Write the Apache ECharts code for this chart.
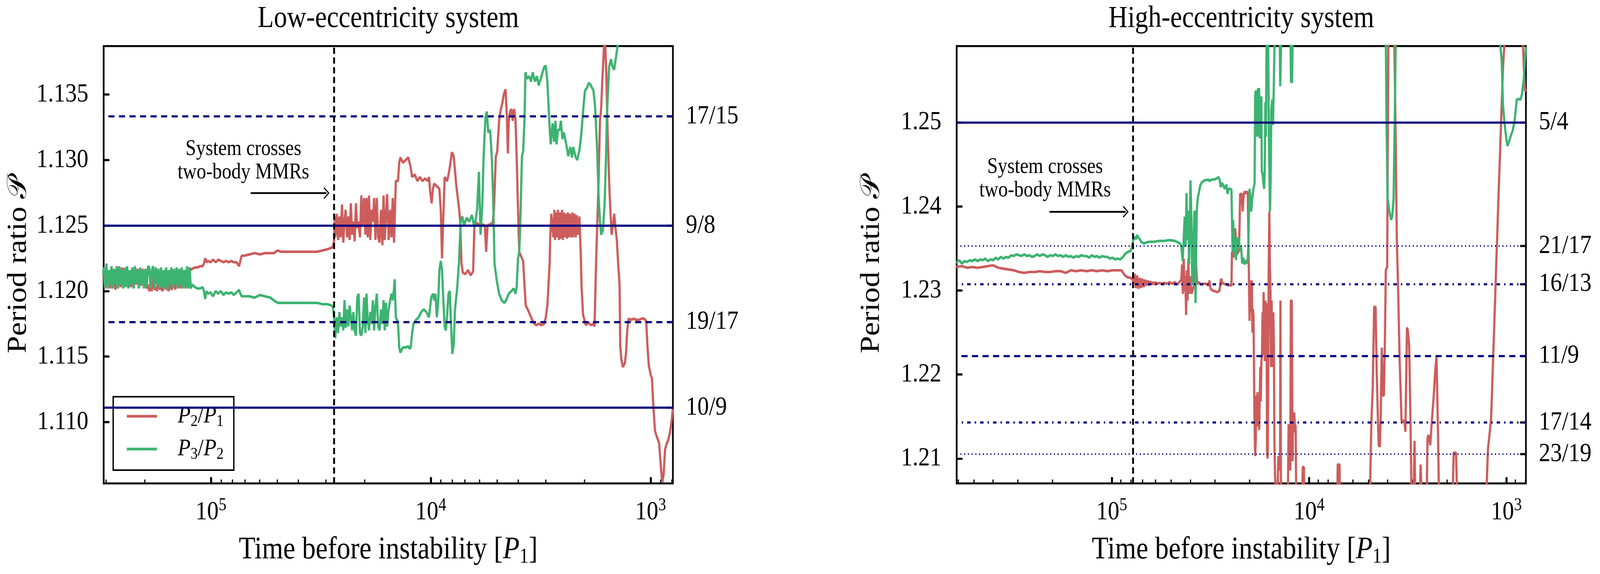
<!DOCTYPE html>
<html>
<head>
<meta charset="utf-8">
<title>Period ratio before instability</title>
<script src="https://cdn.jsdelivr.net/npm/echarts@6/dist/echarts.min.js"></script>
<style>
  html, body { margin: 0; padding: 0; background: #fff; overflow: hidden; }
  #chart { width: 4708px; height: 1470px; transform-origin: 0 0; }
</style>
</head>
<body>
<div id="chart"></div>
<script>
// values: [time before instability in P1, period ratio]
const lowP21 = [
  [310000,1.1210],[307400,1.1216],[303200,1.1202],[299100,1.1218],[295100,1.1205],[291100,1.1215],[287100,1.1202],[283300,1.1218],[279500,1.1205],[275600,1.1216],[271900,1.1201],[268200,1.1219],[264600,1.1205],[261000,1.1216],[257500,1.1203],[254000,1.1218],[250600,1.1202],[247200,1.1216],[243900,1.1205],[240600,1.1218],[237300,1.1202],[234100,1.1215],[230900,1.1203],[227800,1.1218],[224700,1.1202],[221700,1.1216],[218700,1.1205],[215700,1.1217],[212800,1.1202],[209900,1.1216],[207100,1.1204],[204300,1.1217],[201500,1.1202],[198800,1.1215],[196100,1.1202],[193400,1.1205],[190800,1.1200],[188200,1.1203],[185700,1.1200],[183200,1.1216],[180700,1.1201],[178200,1.1203],[175800,1.1200],[173500,1.1216],[171100,1.1201],[168800,1.1205],[166500,1.1200],[164200,1.1202],[162000,1.1216],[159800,1.1201],[157700,1.1203],[155500,1.1200],[153400,1.1216],[151400,1.1201],[149300,1.1203],[147300,1.1216],[145300,1.1201],[143300,1.1216],[141400,1.1202],[139500,1.1215],[137600,1.1202],[135700,1.1216],[133900,1.1203],[132100,1.1216],[130300,1.1202],[128500,1.1217],[126800,1.1203],[125100,1.1218],[123400,1.1216],[121700,1.1217],
  [118400,1.1218],[115200,1.1218],[112100,1.1219],[109100,1.1219],[107600,1.1221],[106200,1.1225],[104700,1.1222],[103300,1.1223],[100500,1.1222],[97800,1.1224],[95200,1.1222],[92600,1.1224],[90100,1.1223],[87700,1.1222],[85400,1.1223],[83100,1.1222],[80800,1.1223],[78700,1.1222],[76500,1.1222],[74500,1.1219],[73500,1.1223],[72500,1.1227],[70500,1.1227],[66800,1.1228],[63300,1.1229],[59900,1.1228],[56700,1.1229],[53700,1.1229],[51600,1.1229],[50900,1.1230],[49500,1.1231],[48200,1.1230],[45600,1.1230],[43200,1.1230],[40900,1.1230],[38700,1.1230],[36700,1.1230],[34700,1.1230],[32900,1.1230],[31100,1.1231],[29500,1.1232],[28300,1.1233],[27900,1.1234],[27550,1.1238],[27300,1.1257],
  [27200,1.1241],[26800,1.1259],[26400,1.1239],[26050,1.1257],[25700,1.1241],[25350,1.1266],[25000,1.1237],[24700,1.1253],[24400,1.1262],[24050,1.1241],[23700,1.1257],[23400,1.1239],[23100,1.1267],[22800,1.1243],[22500,1.1253],[22200,1.1238],[21900,1.1267],[21600,1.1248],[21300,1.1253],[21000,1.1241],[20700,1.1273],[20400,1.1250],[20100,1.1271],[19850,1.1243],[19600,1.1271],[19350,1.1241],[19100,1.1273],[18850,1.1239],[18600,1.1262],[18350,1.1253],[18100,1.1271],[17850,1.1239],[17600,1.1271],[17350,1.1241],[17100,1.1237],[16850,1.1262],[16600,1.1235],[16400,1.1273],[16200,1.1239],[16000,1.1257],[15800,1.1274],[15550,1.1239],[15300,1.1262],[15100,1.1241],[14900,1.1271],[14700,1.1237],[14500,1.1271],
  [14420,1.1284],[14100,1.1284],[13920,1.1298],[13750,1.1302],[13400,1.1298],[13000,1.1300],[12660,1.1302],[12330,1.1294],[12160,1.1287],[11830,1.1289],[11510,1.1284],[11210,1.1287],[10910,1.1284],[10610,1.1286],[10330,1.1284],[10190,1.1287],[10050,1.1275],[9910,1.1267],[9780,1.1278],[9650,1.1282],[9390,1.1280],[9140,1.1278],[9010,1.1262],[8890,1.1225],[8770,1.1257],[8650,1.1287],[8420,1.1284],[8200,1.1294],[8020,1.1306],[7870,1.1303],[7650,1.1280],[7450,1.1264],[7350,1.1253],[7250,1.1221],[7150,1.1214],[6960,1.1213],[6780,1.1216],[6590,1.1212],[6420,1.1215],[6330,1.1250],[6160,1.1252],[5990,1.1250],[5830,1.1251],[5680,1.1250],[5600,1.1230],[5520,1.1250],[5370,1.1251],[5230,1.1252],[5160,1.1262],
  [5060,1.1303],[4990,1.1306],[4890,1.1330],[4810,1.1338],[4720,1.1344],[4660,1.1350],[4570,1.1354],[4500,1.1330],[4460,1.1305],[4420,1.1330],[4360,1.1337],[4300,1.1339],[4240,1.1330],[4180,1.1339],[4120,1.1332],[4070,1.1303],[4010,1.1262],[3960,1.1230],[3850,1.1225],[3800,1.1223],[3750,1.1205],[3700,1.1189],[3600,1.1185],[3500,1.1180],[3410,1.1176],[3320,1.1174],[3230,1.1175],[3140,1.1174],[3050,1.1175],[3000,1.1180],[2950,1.1189],[2880,1.1221],[2860,1.1243],[2830,1.1259],
  [2770,1.1241],[2740,1.1262],[2720,1.1239],[2700,1.1260],[2670,1.1241],[2640,1.1262],[2610,1.1239],[2590,1.1260],[2560,1.1240],[2530,1.1262],[2510,1.1239],[2480,1.1260],[2460,1.1241],[2420,1.1259],[2400,1.1240],[2380,1.1260],[2350,1.1241],[2330,1.1259],[2290,1.1241],[2270,1.1260],[2250,1.1241],[2220,1.1259],[2190,1.1241],[2170,1.1258],[2140,1.1243],[2110,1.1257],
  [2080,1.1230],[2060,1.1202],[2030,1.1182],[1970,1.1174],[1920,1.1176],[1870,1.1174],[1820,1.1175],[1800,1.1173],[1775,1.1216],[1750,1.1250],[1725,1.1284],[1700,1.1330],[1680,1.1339],[1655,1.1364],[1630,1.1387],[1610,1.1389],[1590,1.1364],[1570,1.1323],[1545,1.1284],[1525,1.1262],[1505,1.1243],[1485,1.1250],[1465,1.1259],[1445,1.1248],[1425,1.1239],[1405,1.1221],[1385,1.1205],[1375,1.1159],[1360,1.1148],[1338,1.1142],[1310,1.1145],[1295,1.1152],[1278,1.1170],[1260,1.1179],[1227,1.1178],[1194,1.1179],[1162,1.1178],[1131,1.1178],[1099,1.1179],[1070,1.1179],[1047,1.1177],[1035,1.1159],[1019,1.1143],[999,1.1136],[986,1.1133],[973,1.1113],[955,1.1093],[934,1.1088],[915,1.1084],[896,1.1063],[884,1.1054],[872,1.1061],[860,1.1079],[848,1.1083],[833,1.1086],[819,1.1091],[804,1.1100],[793,1.1110]
];

const lowP32 = [
  [310000,1.1212],[307400,1.1218],[303200,1.1203],[299100,1.1221],[295100,1.1202],[291100,1.1216],[287100,1.1205],[283300,1.1219],[279500,1.1202],[275600,1.1217],[271900,1.1205],[268200,1.1218],[264600,1.1202],[261000,1.1219],[257500,1.1205],[254000,1.1216],[250600,1.1202],[247200,1.1218],[243900,1.1203],[240600,1.1219],[237300,1.1202],[234100,1.1216],[230900,1.1205],[227800,1.1218],[224700,1.1202],[221700,1.1219],[218700,1.1206],[215700,1.1216],[212800,1.1202],[209900,1.1218],[207100,1.1205],[204300,1.1216],[201500,1.1202],[198800,1.1217],[196100,1.1203],[193400,1.1219],[190800,1.1218],[188200,1.1202],[185700,1.1216],[183200,1.1219],[180700,1.1202],[178200,1.1218],[175800,1.1205],[173500,1.1217],[171100,1.1202],[168800,1.1218],[166500,1.1203],[164200,1.1216],[162000,1.1202],[159800,1.1218],[157700,1.1201],[155500,1.1216],[153400,1.1205],[151400,1.1218],[149300,1.1202],[147300,1.1217],[145300,1.1205],[143300,1.1218],[141400,1.1202],[139500,1.1217],[137600,1.1205],[135700,1.1218],[133900,1.1202],[132100,1.1216],[130300,1.1203],[128500,1.1219],[126800,1.1202],[125100,1.1218],[123400,1.1202],[121700,1.1205],
  [118400,1.1203],[115200,1.1202],[112100,1.1202],[109100,1.1203],[107600,1.1200],[106200,1.1194],[104700,1.1200],[103300,1.1198],[100500,1.1199],[97800,1.1196],[95200,1.1200],[92600,1.1198],[90100,1.1200],[87700,1.1197],[85400,1.1199],[83100,1.1198],[80800,1.1199],[78700,1.1197],[76500,1.1199],[74500,1.1201],[73500,1.1198],[72500,1.1196],[70500,1.1196],[66800,1.1196],[63300,1.1195],[59900,1.1197],[56700,1.1196],[53700,1.1195],[50900,1.1192],[49500,1.1191],[48200,1.1191],[45600,1.1191],[43200,1.1191],[40900,1.1191],[38700,1.1191],[36700,1.1191],[34700,1.1191],[32900,1.1191],[31100,1.1190],[29500,1.1190],[28300,1.1189],[27900,1.1188],[27550,1.1180],[27300,1.1170],
  [27200,1.1164],[26800,1.1180],[26400,1.1168],[26050,1.1184],[25700,1.1173],[25350,1.1180],[25000,1.1170],[24700,1.1193],[24400,1.1172],[24050,1.1186],[23700,1.1173],[23400,1.1189],[23100,1.1180],[22800,1.1170],[22500,1.1184],[22200,1.1170],[21900,1.1166],[21600,1.1195],[21300,1.1198],[21000,1.1168],[20700,1.1166],[20400,1.1173],[20100,1.1195],[19850,1.1168],[19600,1.1198],[19350,1.1177],[19100,1.1170],[18850,1.1184],[18600,1.1175],[18350,1.1193],[18100,1.1170],[17850,1.1189],[17600,1.1198],[17350,1.1173],[17100,1.1170],[16850,1.1186],[16600,1.1175],[16400,1.1193],[16200,1.1170],[16000,1.1191],[15800,1.1173],[15550,1.1186],[15300,1.1193],[15100,1.1198],[14900,1.1193],[14700,1.1202],[14600,1.1209],
  [14420,1.1180],[14100,1.1176],[13920,1.1157],[13750,1.1153],[13400,1.1157],[13000,1.1157],[12660,1.1158],[12490,1.1156],[12330,1.1157],[12160,1.1168],[12000,1.1175],[11670,1.1178],[11360,1.1180],[11060,1.1184],[10760,1.1186],[10470,1.1184],[10190,1.1180],[9960,1.1195],[9780,1.1198],[9650,1.1193],[9520,1.1198],[9390,1.1180],[9260,1.1191],[9140,1.1216],[9010,1.1223],[8890,1.1216],[8770,1.1193],[8650,1.1173],[8540,1.1170],[8420,1.1182],[8310,1.1198],[8200,1.1200],[8090,1.1175],[7980,1.1152],[7870,1.1159],[7760,1.1186],[7590,1.1202],[7450,1.1221],[7310,1.1253],[7190,1.1257],[7060,1.1250],[6870,1.1256],[6690,1.1253],[6500,1.1258],[6330,1.1248],[6160,1.1262],[6040,1.1291],[5940,1.1243],[5830,1.1266],[5750,1.1303],[5640,1.1333],[5560,1.1337],[5480,1.1321],[5370,1.1323],[5270,1.1300],[5190,1.1262],[5130,1.1221],[5020,1.1209],[4890,1.1198],[4760,1.1193],[4630,1.1191],
  [4540,1.1193],[4420,1.1198],[4300,1.1200],[4200,1.1202],[4120,1.1198],[4070,1.1203],[4010,1.1225],[3960,1.1230],[3900,1.1262],[3850,1.1303],[3800,1.1307],[3750,1.1330],[3710,1.1367],[3650,1.1362],[3570,1.1364],[3500,1.1360],[3440,1.1367],[3360,1.1360],[3290,1.1364],[3230,1.1357],[3160,1.1362],[3100,1.1367],[3050,1.1371],[3000,1.1372],[2950,1.1360],[2890,1.1330],[2850,1.1312],[2790,1.1328],[2750,1.1314],[2710,1.1330],[2680,1.1312],[2640,1.1323],[2590,1.1323],[2560,1.1330],[2520,1.1316],[2480,1.1321],[2420,1.1312],[2370,1.1303],[2320,1.1310],[2280,1.1302],[2250,1.1310],[2200,1.1303],[2160,1.1300],[2110,1.1307],[2070,1.1319],[2030,1.1337],[1990,1.1353],[1950,1.1355],[1910,1.1359],[1870,1.1357],[1820,1.1353],[1790,1.1341],[1750,1.1307],[1725,1.1273],[1700,1.1253],[1680,1.1243],[1650,1.1246],[1620,1.1266],[1600,1.1296],[1580,1.1335],[1545,1.1371],[1515,1.1377],[1490,1.1371],[1465,1.1369],[1445,1.1376],[1420,1.1385],[1405,1.1389],[1300,1.1420]
];

const highP21 = [
  [615000,1.2328],[610500,1.2328],[574600,1.2329],[540800,1.2327],[509000,1.2328],[479100,1.2327],[450900,1.2328],[424400,1.2329],[399500,1.2330],[376000,1.2327],[353900,1.2326],[333100,1.2325],[313500,1.2324],[295100,1.2322],[277700,1.2321],[261400,1.2322],[246000,1.2322],[231600,1.2323],[218000,1.2322],[205100,1.2322],[193100,1.2323],[181700,1.2323],[171000,1.2321],[161000,1.2324],[151500,1.2323],[142600,1.2324],[134200,1.2323],[126300,1.2324],[118900,1.2323],[111900,1.2324],[105300,1.2323],[99100,1.2324],[93300,1.2324],[89200,1.2324],[86500,1.2319],[83900,1.2316],[80200,1.2315],[78200,1.2313],
  [77800,1.2308],[76700,1.2320],[75500,1.2303],[74400,1.2318],[73200,1.2302],[72100,1.2315],[71000,1.2303],[70000,1.2314],[68900,1.2304],[67900,1.2313],[66800,1.2306],[65800,1.2312],[64800,1.2306],[63900,1.2311],[62900,1.2307],[62000,1.2310],[61000,1.2307],[60100,1.2310],[59200,1.2308],[57400,1.2309],[55700,1.2308],[54100,1.2309],[52500,1.2308],[50900,1.2310],[49400,1.2308],[47900,1.2310],[46500,1.2307],[45100,1.2311],
  [44400,1.2313],[44000,1.2331],[43600,1.2296],[43200,1.2338],[42800,1.2299],[42400,1.2317],[42000,1.2271],[41700,1.2324],[41300,1.2288],[40900,1.2338],[40600,1.2296],[40200,1.2317],[39900,1.2310],[39400,1.2296],[38700,1.2303],[38200,1.2306],[37800,1.2395],[37400,1.2331],[36900,1.2308],[36200,1.2310],[35400,1.2307],[34300,1.2308],[33300,1.2308],[32300,1.2306],
  [32000,1.2312],[31580,1.2302],[30760,1.2300],[29960,1.2299],[29180,1.2298],[28420,1.2300],[28050,1.2312],[27860,1.2314],[27500,1.2309],[26960,1.2308],[26250,1.2307],[25560,1.2306],[24900,1.2307],[24740,1.2305],[24580,1.2346],[24420,1.2339],[24260,1.2350],[23940,1.2353],[23690,1.2374],[23470,1.2360],[23320,1.2343],[23070,1.2344],[22860,1.2346],[22650,1.2353],[22480,1.2380],[22350,1.2415],[21970,1.2415],[21680,1.2394],[21540,1.2408],[21400,1.2415],[21260,1.2418],[21030,1.2415],[20700,1.2418],[20430,1.2415],[20300,1.2360],[20160,1.2309],[20030,1.2264],[19900,1.2312],[19640,1.2274],[19510,1.2312],[19380,1.2250],[19250,1.2278],[19130,1.2271],[18930,1.2155],[18760,1.2103],[18630,1.2121],[18510,1.2175],[18390,1.2162],[18270,1.2179],[18150,1.2138],[18030,1.2172],[17910,1.2134],[17790,1.2172],[17670,1.2209],[17560,1.2168],[17440,1.2216],[17330,1.2223],[17210,1.2274],[17100,1.2223],[16990,1.2298],[16880,1.2257],[16770,1.2216],[16650,1.2288],[16540,1.2240],[16430,1.2285],[16330,1.2107],[16220,1.2100],[16110,1.2189],[16030,1.2312],[15900,1.2394],[15800,1.2326],[15690,1.2298],[15590,1.2209],[15480,1.2288],[15280,1.2209],[15180,1.2274],[15080,1.2240],[14980,1.2121],[14880,1.2080],[14780,1.2066],[14500,1.2040],[14310,1.2103],[14220,1.2086],[14120,1.2093],[14030,1.2103],[13970,1.2288],[13900,1.2086],[13820,1.2040],[12830,1.2040],[12700,1.2141],[12620,1.2093],[12530,1.2139],[12450,1.2086],[12370,1.2288],[12240,1.2288],[12120,1.2097],[12050,1.2155],[11970,1.2131],[11890,1.2155],[11810,1.2141],[11700,1.2139],[11610,1.2040],[10840,1.2040],[10770,1.2090],[10630,1.2090],[10560,1.2040],[7200,1.2040],[7160,1.2093],[7010,1.2093],[6960,1.2040],
  [4980,1.2040],[4900,1.2070],[4830,1.2146],[4755,1.2185],[4680,1.2281],[4600,1.2280],[4540,1.2200],[4475,1.2146],[4435,1.2116],[4380,1.2114],[4330,1.2153],[4280,1.2232],[4225,1.2175],[4175,1.2175],[4120,1.2253],[4085,1.2324],[4020,1.2328],[3985,1.2502],[3960,1.2606],[3730,1.2606],[3695,1.2591],[3650,1.2502],[3590,1.2360],[3535,1.2299],[3475,1.2217],[3400,1.2146],[3350,1.2143],[3290,1.2146],[3250,1.2132],[3190,1.2256],[3160,1.2253],[3110,1.2235],[3070,1.2164],[3020,1.2040],[2960,1.2040],[2920,1.2121],[2890,1.2040],[2760,1.2040],[2720,1.2093],[2680,1.2040],[2540,1.2040],[2510,1.2125],[2480,1.2128],[2430,1.2116],[2390,1.2143],[2340,1.2171],[2290,1.2207],[2260,1.2221],[2220,1.2128],[2190,1.2040],[1880,1.2040],[1850,1.2107],[1800,1.2107],[1770,1.2040],[1271,1.2040],[1240,1.2111],[1214,1.2132],[1196,1.2146],[1168,1.2217],[1141,1.2288],[1115,1.2360],[1089,1.2431],[1063,1.2502],[1040,1.2566],[1024,1.2591],[1015,1.2606],[828,1.2606],[816,1.2566],[804,1.2537],[796,1.2540]
];

const highP32 = [
  [615000,1.2333],[610500,1.2333],[592300,1.2336],[574600,1.2332],[557500,1.2335],[540800,1.2334],[524700,1.2336],[509000,1.2335],[493800,1.2337],[479100,1.2335],[464800,1.2337],[450900,1.2336],[437500,1.2338],[424400,1.2335],[411800,1.2337],[399500,1.2336],[387600,1.2339],[376000,1.2337],[364800,1.2340],[353900,1.2338],[343300,1.2340],[333100,1.2339],[323200,1.2342],[313500,1.2341],[304200,1.2343],[295100,1.2342],[286300,1.2341],[277700,1.2343],[269400,1.2341],[261400,1.2342],[253600,1.2340],[246000,1.2341],[238700,1.2343],[231600,1.2341],[224700,1.2343],[218000,1.2342],[211500,1.2340],[205100,1.2342],[199000,1.2341],[193100,1.2343],[187300,1.2341],[181700,1.2342],[176300,1.2340],[171000,1.2342],[165900,1.2340],[161000,1.2341],[156200,1.2339],[151500,1.2341],[147000,1.2340],[142600,1.2342],[138400,1.2341],[134200,1.2341],[130200,1.2339],[126300,1.2342],[122600,1.2340],[118900,1.2341],[115400,1.2339],[111900,1.2341],[108600,1.2340],[105300,1.2340],[102200,1.2338],[99100,1.2339],[96200,1.2337],[93300,1.2338],[90500,1.2337],[87800,1.2340],[85200,1.2344],[82600,1.2346],[80200,1.2347],[79000,1.2352],[77800,1.2360],[76700,1.2364],[75500,1.2361],[74400,1.2366],[73200,1.2363],[72100,1.2361],[71000,1.2358],[68900,1.2356],[64800,1.2358],[61000,1.2358],[57400,1.2359],[54100,1.2359],[50900,1.2360],[47900,1.2359],[45100,1.2356],[44400,1.2352],
  [43700,1.2335],[43100,1.2367],[42700,1.2388],[42200,1.2352],[41800,1.2416],[41400,1.2360],[40900,1.2395],[40600,1.2331],[40200,1.2381],[39900,1.2431],[39500,1.2388],[39100,1.2306],[38500,1.2360],[38100,1.2395],[37600,1.2285],[37100,1.2395],[36700,1.2409],[36200,1.2416],[35600,1.2425],[34900,1.2429],[33800,1.2431],[32300,1.2432],
  [32000,1.2430],[31170,1.2432],[30350,1.2432],[29560,1.2433],[28790,1.2435],[28420,1.2432],[28050,1.2423],[27680,1.2428],[27320,1.2426],[26780,1.2421],[26250,1.2426],[25900,1.2415],[25560,1.2421],[25060,1.2421],[24740,1.2420],[24580,1.2387],[24420,1.2346],[24260,1.2384],[24100,1.2360],[23940,1.2367],[23780,1.2339],[23630,1.2360],[23470,1.2336],[23320,1.2363],[23010,1.2353],[22710,1.2363],[22410,1.2346],[22120,1.2353],[21830,1.2332],[21540,1.2339],[21260,1.2331],[20980,1.2336],[20700,1.2332],[20430,1.2339],[20300,1.2360],[20160,1.2394],[20030,1.2421],[19900,1.2415],[19640,1.2394],[19380,1.2411],[19130,1.2421],[18880,1.2428],[18760,1.2531],[18630,1.2538],[18510,1.2483],[18390,1.2538],[18270,1.2483],[18150,1.2541],[18030,1.2497],[17910,1.2541],[17790,1.2481],[17670,1.2524],[17560,1.2497],[17440,1.2531],[17370,1.2442],[17210,1.2438],[17030,1.2428],[16880,1.2421],[16770,1.2452],[16650,1.2524],[16540,1.2483],[16430,1.2589],[16290,1.2606],[16110,1.2589],[15950,1.2462],[15780,1.2394],[15650,1.2435],[15530,1.2514],[15380,1.2527],[15240,1.2497],[15120,1.2534],[14960,1.2592],[14840,1.2616],
  [14090,1.2606],[14010,1.2543],[13900,1.2543],[13820,1.2606],[12430,1.2606],[12350,1.2548],[12190,1.2548],[12100,1.2606],
  [4120,1.2606],[4080,1.2591],[4050,1.2502],[4000,1.2409],[3920,1.2395],[3840,1.2384],[3790,1.2388],[3730,1.2409],[3680,1.2502],[3640,1.2591],[3600,1.2606],
  [1089,1.2606],[1072,1.2591],[1056,1.2573],[1040,1.2520],[1018,1.2495],[1000,1.2480],[988,1.2472],[970,1.2477],[950,1.2484],[930,1.2490],[908,1.2502],[886,1.2527],[867,1.2528],[849,1.2527],[833,1.2534],[816,1.2552],[804,1.2576],[796,1.2590]
];

// resonances and axis ticks
const lowRes = [17 / 15, 9 / 8, 19 / 17, 10 / 9];
const lowResLabels = ['17/15', '9/8', '19/17', '10/9'];
const highRes = [5 / 4, 21 / 17, 16 / 13, 11 / 9, 17 / 14, 23 / 19];
const highResLabels = ['5/4', '21/17', '16/13', '11/9', '17/14', '23/19'];
const lowTicks = [1.110, 1.115, 1.120, 1.125, 1.130, 1.135];
const highTicks = [1.21, 1.22, 1.23, 1.24, 1.25];
const decadeTicks = [1e3, 1e4, 1e5];
const lowMinorTicks = [800, 900, 2000, 3000, 4000, 5000, 6000, 7000, 8000, 9000,
  20000, 30000, 40000, 50000, 60000, 70000, 80000, 90000, 200000, 300000];
const highMinorTicks = [800, 900, 2000, 3000, 4000, 5000, 6000, 7000, 8000, 9000,
  20000, 30000, 40000, 50000, 60000, 70000, 80000, 90000, 200000, 300000, 400000, 500000, 600000];
const crossTimes = [27540, 78200];

const FONT = '"Liberation Serif", "DejaVu Serif", serif';
const NAVY = '#000080';
const RED = '#CD5C5C';
const GREEN = '#3CB371';

const solid = { color: NAVY, width: 5.5, type: 'solid' };
const dashed = { color: NAVY, width: 5.5, type: [18, 13] };
const dotted = { color: NAVY, width: 4, type: [3, 8] };
const dashDot = { color: NAVY, width: 5.5, type: [10, 12, 4, 12] };
const lowResStyle = [dashed, solid, dashed, solid];
const highResStyle = [solid, dotted, dashDot, dashed, dashDot, dotted];

const chevron = 'path://M20,0 L40,20 L37,23 L20,6 L3,23 L0,20 Z';

const panels = [
  {
    title: 'Low-eccentricity system', left: 305,
    xMin: 792, xMax: 307600, yMin: 1.10532, yMax: 1.1387,
    ticks: lowTicks, digits: 3, minor: lowMinorTicks,
    res: lowRes, resLabels: lowResLabels, resStyle: lowResStyle,
    p21: lowP21, p32: lowP32, cross: crossTimes[0],
    arrow: [[65900, 1.12748], [29800, 1.12748]], note: [71200, 1.12992]
  },
  {
    title: 'High-eccentricity system', left: 2815,
    xMin: 796, xMax: 611000, yMin: 1.20705, yMax: 1.25908,
    ticks: highTicks, digits: 2, minor: highMinorTicks,
    res: highRes, resLabels: highResLabels, resStyle: highResStyle,
    p21: highP21, p32: highP32, cross: crossTimes[1],
    arrow: [[206900, 1.23937], [85000, 1.23937]], note: [217800, 1.24328]
  }
];

const GRID_TOP = 118, GRID_W = 1675, GRID_H = 1120;

function powLabel(v) {
  return '{b|10}{s|' + Math.round(Math.log10(v)) + '}';
}

function nearestLabel(values, labels, v) {
  let best = 0;
  values.forEach((r, i) => { if (Math.abs(r - v) < Math.abs(values[best] - v)) best = i; });
  return labels[best];
}

const titles = [], grids = [], xAxes = [], yAxes = [], series = [];

panels.forEach((p, k) => {
  titles.push({
    text: p.title, left: p.left + GRID_W / 2, top: 10, textAlign: 'center', padding: 0,
    textStyle: { fontFamily: FONT, fontSize: 78, fontWeight: 'normal', color: '#000' }
  });
  grids.push({
    left: p.left, top: GRID_TOP, width: GRID_W, height: GRID_H, outerBoundsMode: 'none',
    show: true, borderColor: '#000', borderWidth: 5, backgroundColor: 'transparent'
  });
  xAxes.push({
    gridIndex: k, type: 'log', logBase: 10, inverse: true, min: p.xMin, max: p.xMax,
    position: 'bottom',
    axisLine: { show: false },
    axisTick: { show: true, inside: true, length: 16, customValues: decadeTicks,
      lineStyle: { color: '#000', width: 6 } },
    axisLabel: { customValues: decadeTicks, formatter: powLabel, margin: 34, color: '#000',
      rich: {
        b: { fontFamily: FONT, fontSize: 68, lineHeight: 80, color: '#000' },
        s: { fontFamily: FONT, fontSize: 46, lineHeight: 46, verticalAlign: 'top', color: '#000' }
      } },
    splitLine: { show: false },
    name: 'Time before instability [{i|P}{s|1}]', nameLocation: 'middle', nameGap: 126,
    nameTextStyle: { fontFamily: FONT, fontSize: 80, lineHeight: 90, color: '#000',
      rich: {
        i: { fontFamily: FONT, fontSize: 80, lineHeight: 90, fontStyle: 'italic', color: '#000' },
        s: { fontFamily: FONT, fontSize: 54, lineHeight: 54, verticalAlign: 'bottom', color: '#000' }
      } }
  });
  xAxes.push({
    gridIndex: k, type: 'log', logBase: 10, inverse: true, min: p.xMin, max: p.xMax,
    position: 'bottom',
    axisLine: { show: false },
    axisTick: { show: true, inside: true, length: 10, customValues: p.minor,
      lineStyle: { color: '#000', width: 3.5 } },
    axisLabel: { show: false },
    splitLine: { show: false }
  });
  yAxes.push({
    gridIndex: k, type: 'value', min: p.yMin, max: p.yMax, position: 'left',
    axisLine: { show: false },
    axisTick: { show: true, inside: true, length: 17, customValues: p.ticks,
      lineStyle: { color: '#000', width: 5.5 } },
    axisLabel: { customValues: p.ticks, formatter: v => v.toFixed(p.digits), margin: 45,
      fontFamily: FONT, fontSize: 68, color: '#000' },
    splitLine: { show: false },
    name: 'Period ratio 𝒫', nameLocation: 'middle', nameRotate: 90, nameGap: 210,
    nameTextStyle: { fontFamily: FONT, fontSize: 80, color: '#000' }
  });
  yAxes.push({
    gridIndex: k, type: 'value', min: p.yMin, max: p.yMax, position: 'right',
    axisLine: { show: false },
    axisTick: { show: true, inside: true, length: 17, customValues: p.res,
      lineStyle: { color: '#000', width: 5.5 } },
    axisLabel: { customValues: p.res, formatter: v => nearestLabel(p.res, p.resLabels, v),
      margin: 38, fontFamily: FONT, fontSize: 68, color: '#000' },
    splitLine: { show: false }
  });

  const xi = k * 2, yi = k * 2;
  // resonance lines
  series.push({
    type: 'line', xAxisIndex: xi, yAxisIndex: yi, data: [], z: 1, silent: true,
    markLine: {
      silent: true, symbol: 'none', precision: 8, label: { show: false }, animation: false,
      data: p.res.map((r, i) => ({ yAxis: r, lineStyle: p.resStyle[i] }))
    }
  });
  series.push({
    name: 'P2/P1', type: 'line', xAxisIndex: xi, yAxisIndex: yi, data: p.p21, z: 2,
    showSymbol: false, symbol: 'none', clip: true,
    lineStyle: { color: RED, width: 6.5 }, itemStyle: { color: RED }
  });
  series.push({
    name: 'P3/P2', type: 'line', xAxisIndex: xi, yAxisIndex: yi, data: p.p32, z: 3,
    showSymbol: false, symbol: 'none', clip: true,
    lineStyle: { color: GREEN, width: 6.5 }, itemStyle: { color: GREEN }
  });
  // crossing line, arrow and note
  series.push({
    type: 'line', xAxisIndex: xi, yAxisIndex: yi, data: [], z: 5, silent: true,
    markLine: {
      silent: true, symbol: 'none', precision: 8, label: { show: false }, animation: false,
      data: [
        { xAxis: p.cross, lineStyle: { color: '#000', width: 5.5, type: [16, 9] } },
        [
          { coord: p.arrow[0], symbol: 'none', lineStyle: { color: '#000', width: 4.5, type: 'solid' } },
          { coord: p.arrow[1], symbol: chevron, symbolSize: [30, 17] }
        ]
      ]
    },
    markPoint: {
      silent: true, symbol: 'rect', symbolSize: 1, itemStyle: { color: 'rgba(0,0,0,0)' },
      animation: false,
      label: { show: true, position: 'inside', formatter: 'System crosses\ntwo-body MMRs',
        fontFamily: FONT, fontSize: 56, lineHeight: 60, color: '#000', align: 'center' },
      data: [{ coord: p.note }]
    }
  });
});

const legendRich = {
  i: { fontFamily: FONT, fontSize: 62, lineHeight: 70, fontStyle: 'italic', color: '#000' },
  s: { fontFamily: FONT, fontSize: 42, lineHeight: 42, verticalAlign: 'bottom', color: '#000' },
  n: { fontFamily: FONT, fontSize: 62, lineHeight: 70, color: '#000' }
};

// the window may be narrower than the figure: squeeze the whole figure to fit
const box = document.getElementById('chart');
const sx = Math.min(1, window.innerWidth / 4708);
box.style.transform = 'scale(' + sx + ', 1)';

const chart = echarts.init(box, null, { renderer: 'canvas' });
chart.setOption({
  backgroundColor: '#fff',
  animation: false,
  title: titles,
  grid: grids,
  xAxis: xAxes,
  yAxis: yAxes,
  legend: {
    data: ['P2/P1', 'P3/P2'], orient: 'vertical', left: 333, top: 1016,
    padding: [19, 30, 19, 40], itemGap: 18, itemWidth: 89, itemHeight: 7, icon: 'rect',
    backgroundColor: '#fff', borderColor: '#000', borderWidth: 4, borderRadius: 0,
    selectedMode: false,
    formatter: name => name.replace(/P(\d)/g, '{i|P}{s|$1}').replace('/', '{n|/}'),
    textStyle: { fontFamily: FONT, fontSize: 62, color: '#000', padding: [0, 0, 0, 56], rich: legendRich }
  },
  series: series
});
</script>
</body>
</html>
